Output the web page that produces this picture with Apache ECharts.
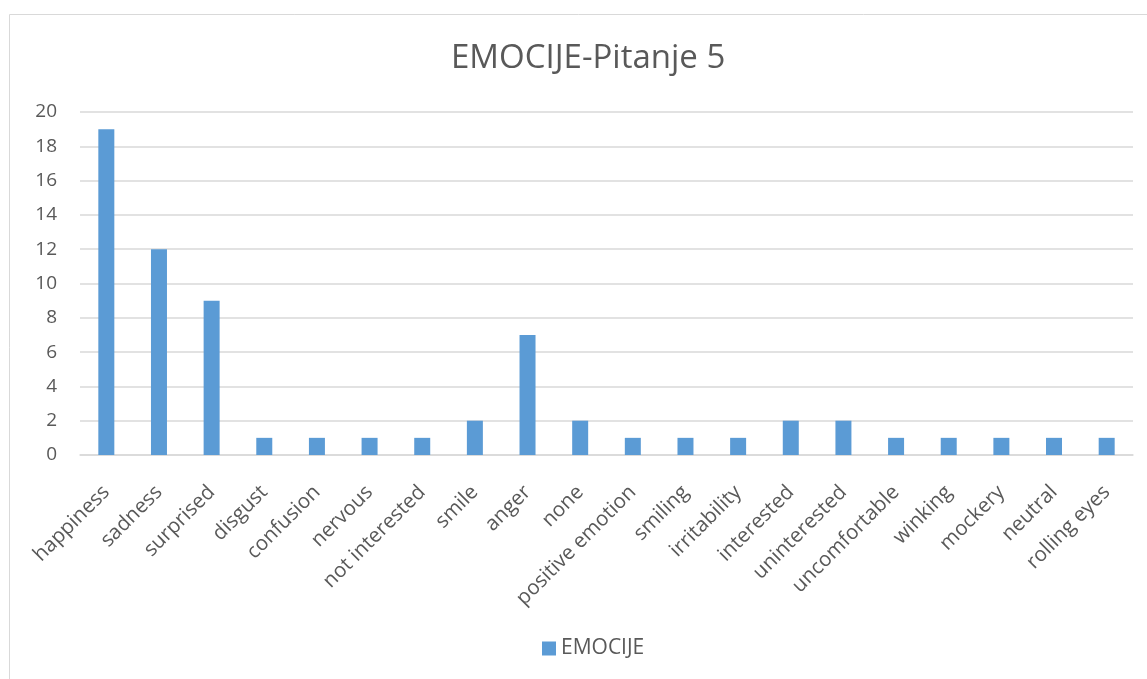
<!DOCTYPE html>
<html><head><meta charset="utf-8">
<script src="https://cdn.jsdelivr.net/npm/echarts@6/dist/echarts.min.js"></script>
<style>html,body{margin:0;padding:0;background:#fff}#c{width:1147px;height:679px}</style>
</head><body><div id="c"></div>
<script>
const categories = ["happiness","sadness","surprised","disgust","confusion","nervous","not interested","smile","anger","none","positive emotion","smiling","irritability","interested","uninterested","uncomfortable","winking","mockery","neutral","rolling eyes"];
const values = [19,12,9,1,1,1,1,2,7,2,1,1,1,2,2,1,1,1,1,1];
const seriesName = "EMOCIJE";
const titleText = "EMOCIJE-Pitanje 5";
const FONT = "'Open Sans', 'Liberation Sans', sans-serif";
const chart = echarts.init(document.getElementById('c'));
chart.setOption({
  animation:false,
  graphic:[{type:'rect',shape:{x:9.5,y:14.5,width:1200,height:700},style:{fill:'none',stroke:'#d9d9d9',lineWidth:1},silent:true,z:-1}],
  title:{text:titleText,left:446,top:37,textStyle:{fontFamily:FONT,fontSize:33,fontWeight:'normal',color:'#595959'}},
  legend:{bottom:15,left:537,itemWidth:14,itemHeight:14,itemGap:6,icon:'rect',textStyle:{fontFamily:FONT,fontSize:21,color:'#595959'},data:[seriesName]},
  grid:{left:80,right:14,top:112,bottom:224,containLabel:false},
  xAxis:{type:'category',data:categories,axisTick:{show:false},axisLine:{lineStyle:{color:'#d9d9d9',width:1.5}},
    axisLabel:{rotate:45,interval:0,fontFamily:FONT,fontSize:20.5,color:'#595959',margin:34}},
  yAxis:{type:'value',min:0,max:20,interval:2,axisLine:{show:false},axisTick:{show:false},
    splitLine:{lineStyle:{color:'#d9d9d9',width:1.5}},
    axisLabel:{fontFamily:FONT,fontSize:19,color:'#595959',margin:23}},
  series:[{name:seriesName,type:'bar',data:values,barWidth:16,itemStyle:{color:'#5b9bd5'}}]
});
</script></body></html>
